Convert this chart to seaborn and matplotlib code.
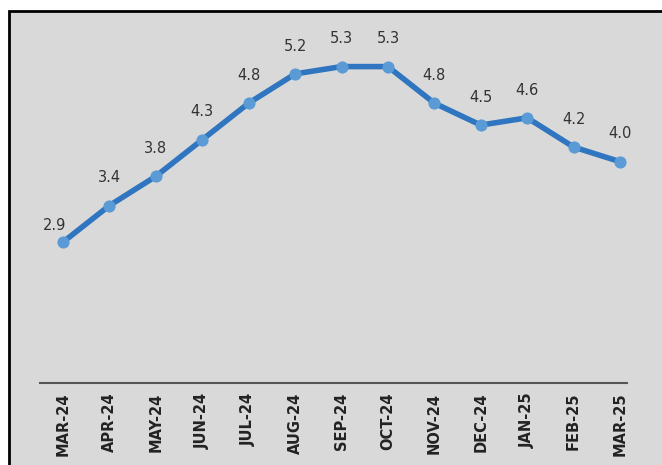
import pandas as pd
import numpy as np
import seaborn as sns
import matplotlib.pyplot as plt
from matplotlib.patches import Rectangle

months = ["MAR-24", "APR-24", "MAY-24", "JUN-24", "JUL-24", "AUG-24", "SEP-24",
          "OCT-24", "NOV-24", "DEC-24", "JAN-25", "FEB-25", "MAR-25"]
values = [2.9, 3.4, 3.8, 4.3, 4.8, 5.2, 5.3, 5.3, 4.8, 4.5, 4.6, 4.2, 4.0]

df = pd.DataFrame({"month": months, "value": values})
df["pos"] = np.arange(len(df))

sns.set_style("white")

W, H = 662, 465
fig = plt.figure(figsize=(W / 100, H / 100), dpi=100)
fig.patch.set_facecolor("white")

# grey panel with black frame, cut off at right and bottom
panel = Rectangle((9 / W, -0.1), 1.2, 1 - 11 / H + 0.1, transform=fig.transFigure,
                  facecolor="#d9d9d9", edgecolor="black", linewidth=2.0, zorder=-5)
fig.patches.append(panel)

ax = fig.add_axes([40 / W, 1 - 383 / H, (627 - 40) / W, (383 - 11) / H])
ax.set_zorder(2)
ax.patch.set_alpha(0)

sns.lineplot(data=df, x="pos", y="value", ax=ax, color="#2f75c0", linewidth=4.0,
             marker="o", markersize=8, markerfacecolor="#5b9bd5",
             markeredgecolor="#5b9bd5", solid_capstyle="round")

for i, (x, y) in enumerate(zip(df["pos"], df["value"])):
    off = (-6, 12) if i == 0 else (0, 20)
    ax.annotate(f"{y:.1f}", (x, y), xytext=off, textcoords="offset points",
                ha="center", va="center", fontsize=10.5, color="#333333",
                family="Liberation Sans Narrow")

ax.set_xlim(-0.495, 12.15)
ax.set_ylim(0.974, 6.06)
ax.set_xticks(df["pos"])
ax.set_xticklabels(months, rotation=90, fontsize=10.5, fontweight="bold", color="#222222",
                   va="top", ha="center")
ax.tick_params(axis="x", length=0, pad=7)
ax.set_yticks([])
ax.set_xlabel("")
ax.set_ylabel("")
for s in ["top", "right", "left"]:
    ax.spines[s].set_visible(False)
ax.spines["bottom"].set_color("#555555")
ax.spines["bottom"].set_linewidth(1.5)

plt.savefig("out.png", dpi=100)
